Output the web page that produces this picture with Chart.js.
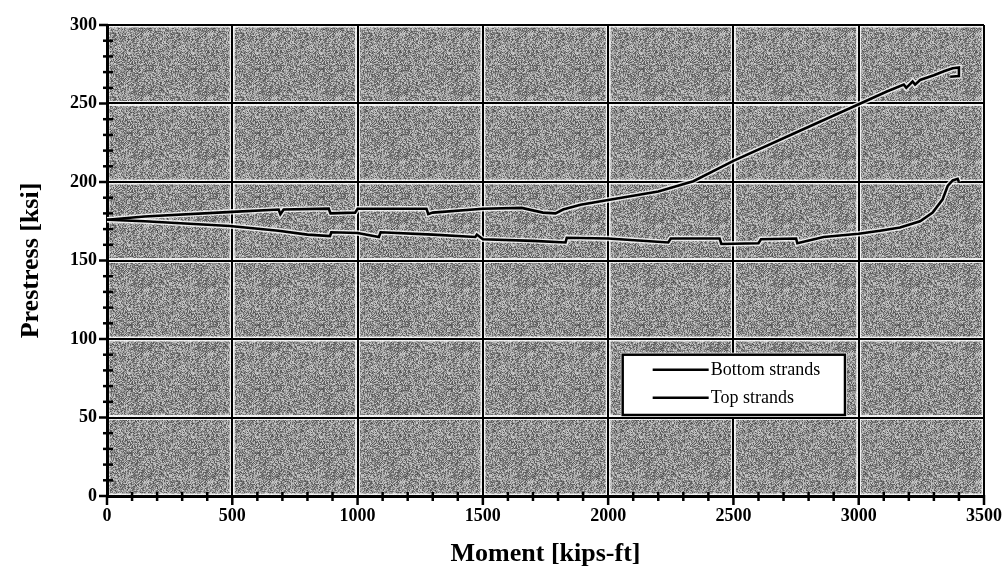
<!DOCTYPE html>
<html>
<head>
<meta charset="utf-8">
<script src="https://cdn.jsdelivr.net/npm/chart.js@4.4.1/dist/chart.umd.min.js"></script>
<style>
  html, body { margin: 0; padding: 0; background: #fff; }
  #wrap { width: 1004px; height: 576px; }
</style>
</head>
<body>
<div id="wrap"><canvas id="chart" width="1004" height="576"></canvas></div>
<script>
// Bottom strands: moment [kips-ft] and prestress [ksi]
const bottomMoment = [0, 150, 500, 685, 692, 705, 885, 892, 990, 1000, 1275, 1282, 1300, 1500, 1655, 1740, 1790, 1820, 1890, 2000, 2200, 2340, 2500, 2750, 3000, 3110, 3180, 3190, 3215, 3225, 3245, 3300, 3340, 3375, 3400, 3400, 3365];
const bottomStress = [176, 178, 181, 182.5, 179.5, 182.5, 183, 180, 180.5, 183, 183, 179.5, 180.5, 183, 183.5, 180.5, 180, 182.5, 185.5, 188.5, 194, 200.5, 213.5, 231.5, 249.5, 257.5, 262, 260, 264, 262, 265, 268, 270.5, 272.5, 273, 267.5, 267];

// Top strands: moment [kips-ft] and prestress [ksi]
const topMoment = [0, 150, 490, 684, 800, 890, 895, 1000, 1085, 1092, 1300, 1470, 1476, 1500, 1700, 1830, 1835, 2000, 2240, 2250, 2445, 2452, 2600, 2610, 2750, 2755, 2860, 3000, 3085, 3165, 3245, 3295, 3335, 3355, 3375, 3395, 3400];
const topStress = [176, 175, 172, 169, 166.5, 165.5, 168, 167.5, 165, 168, 166.5, 165, 166.5, 163.5, 162.5, 161.5, 164.5, 164, 161.5, 164, 164, 160.5, 161, 163.5, 164, 161, 165, 167, 169, 171, 175, 180.5, 189, 197.5, 201, 202, 200];

const seriesNames = ['Bottom strands', 'Top strands'];

// Axis ticks
const xTicks = [0, 500, 1000, 1500, 2000, 2500, 3000, 3500];
const yTicks = [0, 50, 100, 150, 200, 250, 300];
const xMinorStep = 100;
const yMinorStep = 10;

const xTitle = 'Moment [kips-ft]';
const yTitle = 'Prestress [ksi]';

const serif = '"Liberation Serif", "Times New Roman", serif';

function pairs(xs, ys) {
  return xs.map((x, i) => ({ x: x, y: ys[i] }));
}

// Integer hash used to build a grainy screen-tone tile for the plot area
function hash2(i, j) {
  let h = (i * 374761393 + j * 668265263) >>> 0;
  h = Math.imul(h ^ (h >>> 13), 1274126177) >>> 0;
  return ((h ^ (h >>> 16)) >>> 0) / 4294967295;
}

function makeStipple(ctx) {
  const size = 64;
  const c = document.createElement('canvas');
  c.width = size; c.height = size;
  const g = c.getContext('2d');
  const img = g.createImageData(size, size);
  for (let j = 0; j < size; j++) {
    for (let i = 0; i < size; i++) {
      const v = Math.round(78 + hash2(i, j) * 130);
      const k = (j * size + i) * 4;
      img.data[k] = v; img.data[k + 1] = v; img.data[k + 2] = v; img.data[k + 3] = 255;
    }
  }
  g.putImageData(img, 0, 0);
  return ctx.createPattern(c, 'repeat');
}

const framePlugin = {
  id: 'frame',
  beforeDraw(chart) {
    const { ctx, chartArea: a, scales: { x, y } } = chart;
    ctx.save();
    ctx.fillStyle = makeStipple(ctx);
    ctx.fillRect(a.left, a.top, a.right - a.left, a.bottom - a.top);
    // light edges along the grid lines
    ctx.strokeStyle = 'rgba(255,255,255,0.85)';
    ctx.lineWidth = 5;
    xTicks.forEach(v => {
      const px = x.getPixelForValue(v);
      ctx.beginPath(); ctx.moveTo(px, a.top); ctx.lineTo(px, a.bottom); ctx.stroke();
    });
    yTicks.forEach(v => {
      const py = y.getPixelForValue(v);
      ctx.beginPath(); ctx.moveTo(a.left, py); ctx.lineTo(a.right, py); ctx.stroke();
    });
    ctx.restore();
  },
  afterDatasetsDraw(chart) {
    // legend box inside the plot
    const { ctx, chartArea: a } = chart;
    const w = a.right - a.left, h = a.bottom - a.top;
    const bx = a.left + 0.588 * w, by = a.top + 0.70 * h;
    const bw = 0.2535 * w, bh = 0.128 * h;
    ctx.save();
    ctx.fillStyle = '#fff';
    ctx.fillRect(bx - 2, by - 2, bw + 4, bh + 4);
    ctx.strokeStyle = '#000';
    ctx.lineWidth = 2.5;
    ctx.strokeRect(bx, by, bw, bh);
    const entries = chart.data.datasets.filter(d => d.legendEntry);
    ctx.font = '18px ' + serif;
    ctx.textBaseline = 'middle';
    ctx.textAlign = 'left';
    entries.forEach((d, i) => {
      const ly = by + 15 + i * 28;
      ctx.strokeStyle = d.borderColor;
      ctx.lineWidth = 2.6;
      ctx.beginPath(); ctx.moveTo(bx + 30, ly); ctx.lineTo(bx + 86, ly); ctx.stroke();
      ctx.fillStyle = '#000';
      ctx.fillText(d.label, bx + 88, ly + 1);
    });
    ctx.restore();
  },
  afterDraw(chart) {
    // major and minor tick marks on both axes
    const { ctx, chartArea: a, scales: { x, y } } = chart;
    ctx.save();
    ctx.strokeStyle = '#000';
    ctx.lineWidth = 2.5;
    const yMin = yTicks[0], yMax = yTicks[yTicks.length - 1];
    for (let v = yMin; v <= yMax; v += yMinorStep) {
      const py = y.getPixelForValue(v);
      const major = yTicks.includes(v);
      ctx.beginPath();
      if (major) { ctx.moveTo(a.left - 8, py); ctx.lineTo(a.left + 1, py); }
      else { ctx.moveTo(a.left - 4, py); ctx.lineTo(a.left + 6, py); }
      ctx.stroke();
    }
    const xMin = xTicks[0], xMax = xTicks[xTicks.length - 1];
    for (let v = xMin; v <= xMax; v += xMinorStep) {
      const px = x.getPixelForValue(v);
      const major = xTicks.includes(v);
      ctx.beginPath();
      if (major) { ctx.moveTo(px, a.bottom - 1); ctx.lineTo(px, a.bottom + 9); }
      else { ctx.moveTo(px, a.bottom - 4); ctx.lineTo(px, a.bottom + 5); }
      ctx.stroke();
    }
    ctx.restore();
  }
};

const lineStyle = { borderColor: '#000', borderWidth: 2.6, pointRadius: 0, tension: 0, fill: false, order: 1, legendEntry: true };
const haloStyle = { borderColor: 'rgba(255,255,255,0.8)', borderWidth: 5.5, pointRadius: 0, tension: 0, fill: false, order: 2, legendEntry: false };

new Chart(document.getElementById('chart'), {
  type: 'line',
  data: {
    datasets: [
      Object.assign({ label: seriesNames[0], data: pairs(bottomMoment, bottomStress) }, lineStyle),
      Object.assign({ label: seriesNames[1], data: pairs(topMoment, topStress) }, lineStyle),
      Object.assign({ label: seriesNames[0] + ' edge', data: pairs(bottomMoment, bottomStress) }, haloStyle),
      Object.assign({ label: seriesNames[1] + ' edge', data: pairs(topMoment, topStress) }, haloStyle)
    ]
  },
  options: {
    responsive: false,
    animation: false,
    layout: { padding: { top: 25, right: 20, bottom: 0, left: 0 } },
    plugins: { legend: { display: false }, tooltip: { enabled: false } },
    scales: {
      x: {
        type: 'linear',
        min: xTicks[0],
        max: xTicks[xTicks.length - 1],
        afterBuildTicks: s => { s.ticks = xTicks.map(v => ({ value: v })); },
        afterFit: s => { s.height = 80; s.paddingLeft = 0; s.paddingRight = 0; },
        grid: { color: '#000', lineWidth: 2, drawTicks: false },
        border: { display: true, color: '#000', width: 3 },
        ticks: { color: '#000', padding: 10, maxRotation: 0, callback: v => String(v), font: { family: serif, size: 18, weight: 'bold' } },
        title: { display: true, text: xTitle, color: '#000', padding: { top: 0, bottom: 6 }, font: { family: serif, size: 26, weight: 'bold' } }
      },
      y: {
        type: 'linear',
        min: yTicks[0],
        max: yTicks[yTicks.length - 1],
        afterBuildTicks: s => { s.ticks = yTicks.map(v => ({ value: v })); },
        afterFit: s => { s.width = 107; s.paddingTop = 0; s.paddingBottom = 0; },
        grid: { color: '#000', lineWidth: 2, drawTicks: false },
        border: { display: true, color: '#000', width: 3 },
        ticks: { color: '#000', padding: 10, callback: v => String(v), font: { family: serif, size: 18, weight: 'bold' } },
        title: { display: true, text: yTitle, color: '#000', padding: { top: 16, bottom: 0 }, font: { family: serif, size: 26, weight: 'bold' } }
      }
    }
  },
  plugins: [framePlugin]
});
</script>
</body>
</html>
